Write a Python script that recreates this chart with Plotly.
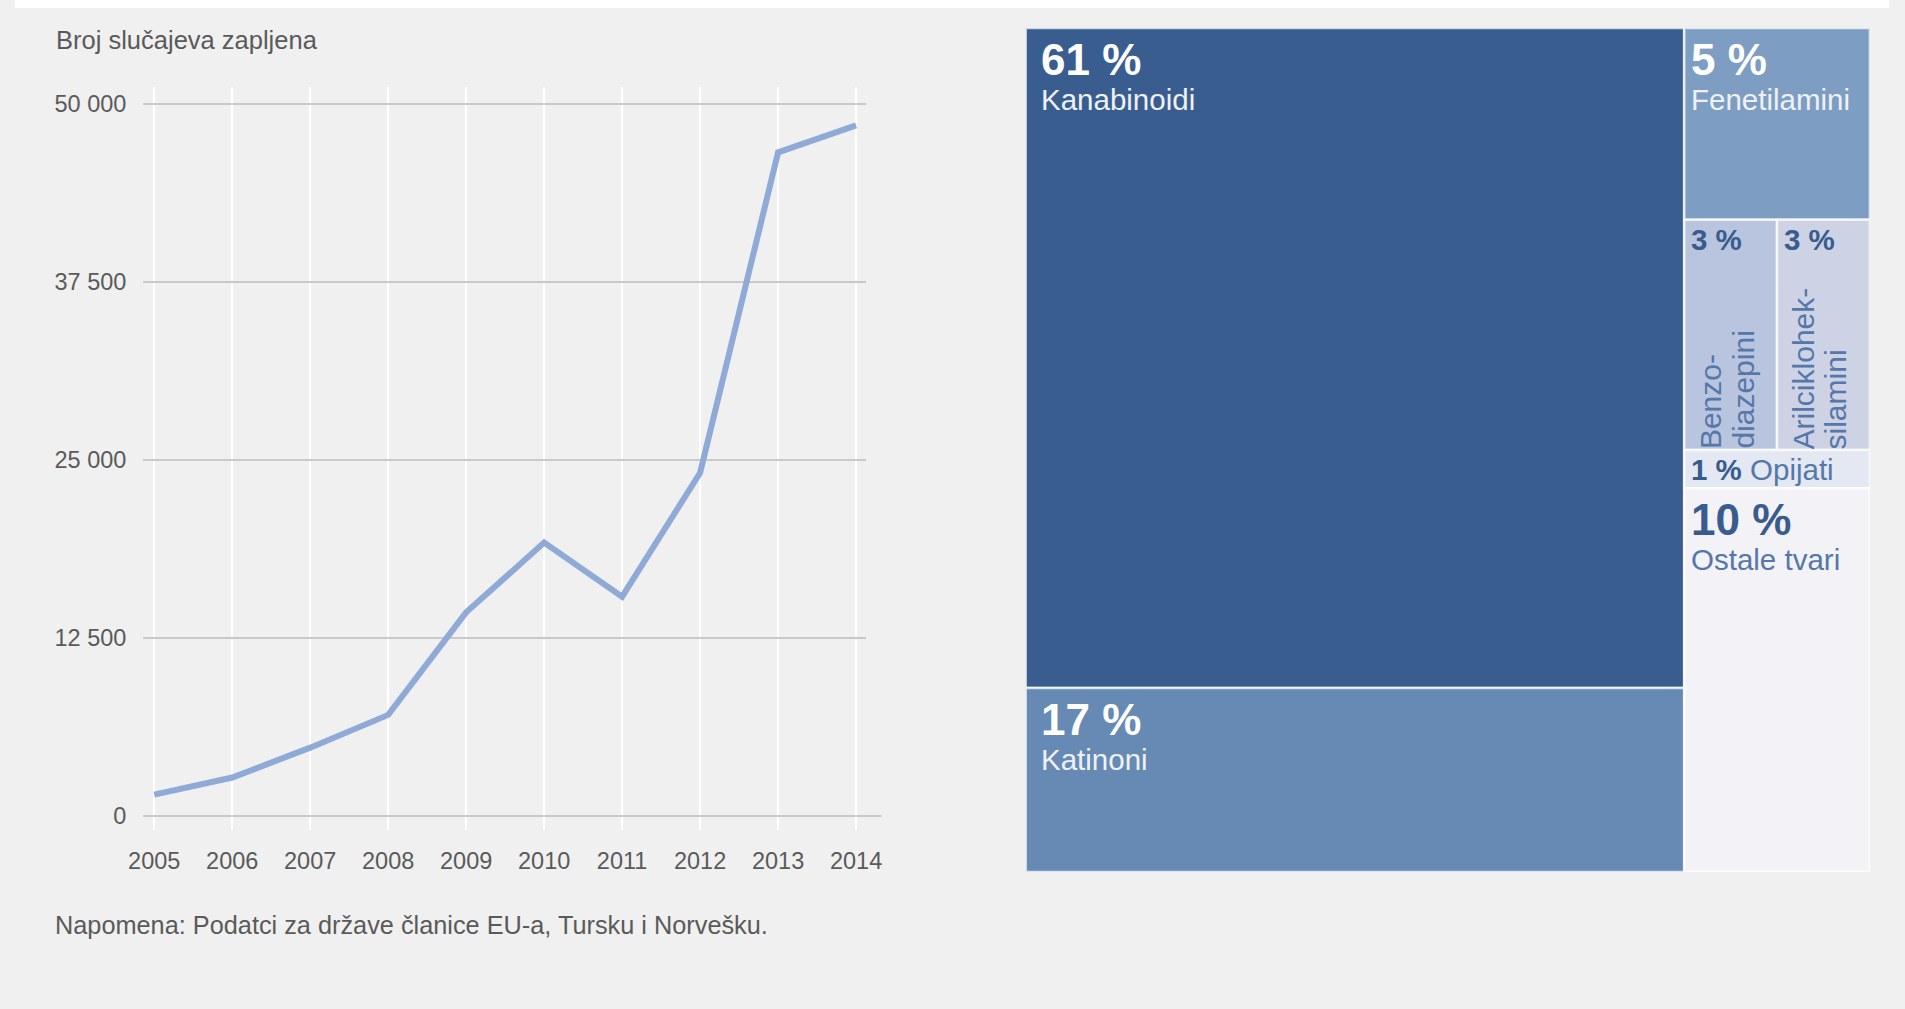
import plotly.graph_objects as go

# ---------------- data ----------------
years = [2005, 2006, 2007, 2008, 2009, 2010, 2011, 2012, 2013, 2014]
seizures = [1500, 2700, 4800, 7100, 14300, 19200, 15400, 24100, 46600, 48500]
y_tick_values = [0, 12500, 25000, 37500, 50000]
y_tick_labels = ["0", "12 500", "25 000", "37 500", "50 000"]
chart_title = "Broj slučajeva zapljena"
footnote = "Napomena: Podatci za države članice EU-a, Tursku i Norvešku."

substances = ["Kanabinoidi", "Katinoni", "Fenetilamini", "Benzodiazepini",
              "Arilcikloheksilamini", "Opijati", "Ostale tvari"]
substance_labels = ["Kanabinoidi", "Katinoni", "Fenetilamini", "Benzo-\ndiazepini",
                    "Arilciklohek-\nsilamini", "Opijati", "Ostale tvari"]
shares = [61, 17, 5, 3, 3, 1, 10]
cell_colors = ["#395d8f", "#668ab3", "#7e9dc3", "#b9c5de", "#cdd3e5", "#e3e8f3", "#f3f2f7"]
# nesting of the treemap (indices into substances); slice-and-dice layout
tree = [[0, 1], [2, [3, 4], 5, 6]]

# ---------------- geometry helpers ----------------
W, H = 1905, 1009
FONT = "Liberation Sans, Arial, sans-serif"
TEXT_GREY = "#5a5a5a"
BG = "#f0f0f0"

# horizontal calibration of the renderer's capture
X_SCALE, X_OFF = 1.0192, -19.3


def fx(t):
    """target pixel (reference) -> figure pixel, horizontal"""
    return X_SCALE * t + X_OFF


def px(t):
    return fx(t) / W


def py(y):
    return 1 - y / H


# treemap frame (target pixels)
TX0, TX1, TY0, TY1 = 1027, 1869, 28, 872
# line chart frame (target pixels)
GX0, GX1, GX_ZERO_END = 147.0, 867.5, 883.5
X_FIRST, X_LAST = 157.8, 857.8
GY_TOP, GY_BOTTOM, Y0_PX, Y50K_PX = 87, 830, 816, 104


def node_value(node):
    if isinstance(node, int):
        return shares[node]
    return sum(node_value(c) for c in node)


rects = {}


def slice_dice(node, x0, y0, x1, y1, depth):
    if isinstance(node, int):
        rects[node] = (x0, y0, x1, y1)
        return
    total = node_value(node)
    pos = x0 if depth % 2 == 0 else y0
    for child in node:
        frac = node_value(child) / total
        if depth % 2 == 0:
            w = (x1 - x0) * frac
            slice_dice(child, pos, y0, pos + w, y1, depth + 1)
            pos += w
        else:
            h = (y1 - y0) * frac
            slice_dice(child, x0, pos, x1, pos + h, depth + 1)
            pos += h


slice_dice(tree, 0.0, 0.0, 1.0, 1.0, 0)

fig = go.Figure()

# ---------------- line chart ----------------
fig.add_trace(go.Scatter(
    x=years, y=seizures, mode="lines",
    line=dict(color="#8faad6", width=6),
    xaxis="x", yaxis="y", showlegend=False,
    hovertemplate="%{x}: %{y:,}<extra></extra>",
))

# ---------------- treemap cells ----------------
def is_dark(hexcol):
    r, g, b = int(hexcol[1:3], 16), int(hexcol[3:5], 16), int(hexcol[5:7], 16)
    return 0.299 * r + 0.587 * g + 0.114 * b < 170


tm_w_px = fx(TX1) - fx(TX0)
tm_h_px = TY1 - TY0

annotations = []
for i, name in enumerate(substances):
    x0, y0, x1, y1 = rects[i]
    fig.add_trace(go.Scatter(
        x=[x0, x1, x1, x0, x0], y=[y0, y0, y1, y1, y0],
        mode="lines", fill="toself", fillcolor=cell_colors[i],
        line=dict(color="rgba(255,255,255,0.75)", width=2.5),
        xaxis="x2", yaxis="y2", showlegend=False,
        hoveron="fills", name=name,
        hovertemplate=f"{name}: {shares[i]} %<extra></extra>",
    ))
    wpx = (x1 - x0) * tm_w_px
    hpx = (y1 - y0) * tm_h_px
    dark = is_dark(cell_colors[i])
    pct_col = "#ffffff" if dark else "#385c8e"
    name_col = "#eef2f8" if dark else "#5577aa"
    pad = 13 if wpx > 300 else 5
    pct_text = f"<b>{shares[i]} %</b>"
    if hpx < 60:
        annotations.append(dict(
            x=x0, y=(y0 + y1) / 2, xref="x2", yref="y2", xanchor="left", yanchor="middle",
            xshift=pad, showarrow=False, align="left",
            text=f"<span style='color:{pct_col}'>{pct_text}</span> "
                 f"<span style='color:{name_col}'>{substance_labels[i]}</span>",
            font=dict(family=FONT, size=29.5)))
    elif wpx < 120:
        annotations.append(dict(
            x=x0, y=y0, xref="x2", yref="y2", xanchor="left", yanchor="middle",
            xshift=pad, yshift=-20, showarrow=False, text=pct_text,
            font=dict(family=FONT, size=29.5, color=pct_col)))
        lines = substance_labels[i].split("\n")
        n = len(lines)
        for k, line in enumerate(lines):
            annotations.append(dict(
                x=(x0 + x1) / 2, y=y1, xref="x2", yref="y2", xanchor="center", yanchor="bottom",
                xshift=(k - (n - 1) / 2) * 32 - 4, yshift=-1, textangle=-90, showarrow=False,
                text=line, font=dict(family=FONT, size=30, color=name_col)))
    else:
        annotations.append(dict(
            x=x0, y=y0, xref="x2", yref="y2", xanchor="left", yanchor="middle",
            xshift=pad, yshift=-31, showarrow=False, text=pct_text,
            font=dict(family=FONT, size=44, color=pct_col)))
        annotations.append(dict(
            x=x0, y=y0, xref="x2", yref="y2", xanchor="left", yanchor="middle",
            xshift=pad, yshift=-71, showarrow=False, text=substance_labels[i],
            font=dict(family=FONT, size=29.5, color=name_col)))

# title and footnote
annotations.append(dict(x=px(58), y=py(40), xref="paper", yref="paper", xanchor="left",
                        yanchor="middle", showarrow=False, text=chart_title,
                        font=dict(family=FONT, size=25.5, color=TEXT_GREY)))
annotations.append(dict(x=px(56.5), y=py(925), xref="paper", yref="paper", xanchor="left",
                        yanchor="middle", showarrow=False, text=footnote,
                        font=dict(family=FONT, size=25.3, color=TEXT_GREY)))

# ---------------- axes ----------------
px_per_year = (fx(X_LAST) - fx(X_FIRST)) / (years[-1] - years[0])
x_left = years[0] - (fx(X_FIRST) - fx(GX0)) / px_per_year
x_right = years[-1] + (fx(GX1) - fx(X_LAST)) / px_per_year
units_per_px = y_tick_values[-1] / (Y0_PX - Y50K_PX)
y_bottom = -(GY_BOTTOM - Y0_PX) * units_per_px
y_top = y_tick_values[-1] + (Y50K_PX - GY_TOP) * units_per_px

shapes = [
    # white strip along the top edge
    dict(type="rect", xref="paper", yref="paper", x0=0, x1=1, y0=py(8), y1=1,
         fillcolor="#ffffff", line=dict(width=0), layer="below"),
    # zero line (longer than the grid)
    dict(type="line", xref="paper", yref="y", x0=px(GX0), x1=px(GX_ZERO_END), y0=0, y1=0,
         line=dict(color="#c9c9c9", width=2), layer="below"),
]

fig.update_layout(
    width=W, height=H,
    margin=dict(l=0, r=0, t=0, b=0),
    paper_bgcolor=BG,
    plot_bgcolor="rgba(0,0,0,0)",
    showlegend=False,
    font=dict(family=FONT, color=TEXT_GREY),
    xaxis=dict(domain=[px(GX0), px(GX1)], range=[x_left, x_right],
               tickvals=years, ticktext=[str(y) for y in years],
               showgrid=True, gridcolor="#ffffff", gridwidth=2,
               zeroline=False, showline=False, ticks="",
               ticklabelstandoff=14,
               tickfont=dict(family=FONT, size=23.5, color=TEXT_GREY),
               fixedrange=True),
    yaxis=dict(domain=[py(GY_BOTTOM), py(GY_TOP)], range=[y_bottom, y_top],
               tickvals=y_tick_values, ticktext=y_tick_labels,
               showgrid=True, gridcolor="#c9c9c9", gridwidth=2,
               zeroline=False, showline=False, ticks="",
               ticklabelstandoff=16,
               tickfont=dict(family=FONT, size=23.5, color=TEXT_GREY),
               fixedrange=True),
    xaxis2=dict(domain=[px(TX0), min(px(TX1), 1)], range=[0, 1], visible=False, fixedrange=True),
    yaxis2=dict(domain=[py(TY1), py(TY0)], range=[1, 0], visible=False, fixedrange=True,
                anchor="x2"),
    shapes=shapes,
    annotations=annotations,
)

page_bg = ("linear-gradient(to bottom, #ffffff 0px, #ffffff 8px, rgba(0,0,0,0) 8px),"
           "linear-gradient(to right, #ffffff 0px, #ffffff 8px, " + BG + " 8px, " + BG +
           " calc(100% - 5px), #ffffff calc(100% - 5px))")

fig.write_html(
    "out.html",
    config={"displayModeBar": False},
    post_script="document.body.style.margin='0px';document.body.style.overflow='hidden';"
                "document.body.style.background='transparent';"
                "document.documentElement.style.background='" + page_bg + "';",
)
